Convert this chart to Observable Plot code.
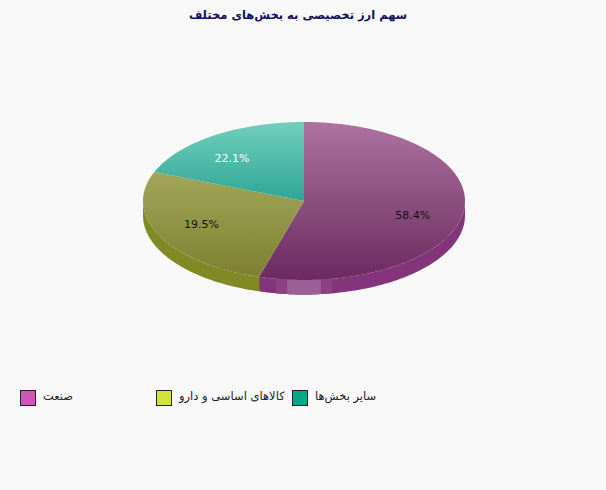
<!DOCTYPE html>
<html><head><meta charset="utf-8">
<script src="https://cdn.jsdelivr.net/npm/d3@7"></script>
<script src="https://cdn.jsdelivr.net/npm/@observablehq/plot@0.6"></script>
<style>
html,body{margin:0;padding:0;background:#f8f8f8;overflow:hidden}
#wrap{position:relative;width:606px;height:490px}
#title{height:30px;width:596px;text-align:center;font:bold 11.5px "DejaVu Sans",sans-serif;line-height:30px;color:#0f0f5f;direction:rtl}
#chart svg{display:block;background:transparent}
#legend{position:absolute;left:20px;top:389px;display:flex;font:11.5px "DejaVu Sans",sans-serif;color:#222}
.item{display:flex;align-items:center;width:136px;height:18px}
.item span+span{position:relative;top:-2px}
.sw{width:14px;height:14px;border:1px solid #222;margin-right:7px;flex:none}
</style></head><body>
<div id="wrap">
<div id="title">سهم ارز تخصیصی به بخش‌های مختلف</div>
<div id="chart"></div>
<div id="legend"></div>
</div>
<script>
const titleText = "سهم ارز تخصیصی به بخش‌های مختلف";
const categories = ["صنعت", "کالاهای اساسی و دارو", "سایر بخش‌ها"];
const labelValues = [58.4, 19.5, 22.1];      // printed percentages
const drawnShares = [54.5, 26.5, 19.0];      // slice sizes as they appear in the picture
const labelColors = ["#111", "#111", "#fff"];
const legendColors = ["#cf55b9", "#d3e33c", "#00a88a"];
const topStops = [["#ad739f", "#6c2a60"], ["#a3a658", "#7c8030"], ["#72cfbc", "#2ea596"]];
const wallColors = ["#83347a", "#7f8a24"];
const highlight = {soft: [170, 190], bright: [174, 186], softColor: "#8b4283", brightColor: "#9c5f94"};

const W = 606, H = 330, top0 = 30;
const cx = 303.5, cy = 200.5 - top0, rx = 161, ry = 79, depth = 14.5;
const pt = (deg, r = 1, dy = 0) => {
  const a = deg * Math.PI / 180;
  return {x: cx + rx * r * Math.sin(a), y: cy - ry * r * Math.cos(a) + dy};
};
const arc = (a0, a1, dy = 0) => {
  const n = Math.max(2, Math.ceil(Math.abs(a1 - a0)));
  return d3.range(n + 1).map(i => pt(a0 + (a1 - a0) * i / n, 1, dy));
};
const wall = (a0, a1) => [...arc(a0, a1), ...arc(a1, a0, depth)];

let acc = 0;
const slices = drawnShares.map(v => { const s = {a0: acc * 3.6, a1: (acc + v) * 3.6}; acc += v; return s; });
let acc2 = 0;
const labels = labelValues.map((v, i) => {
  const mid = (acc2 + v / 2) * 3.6; acc2 += v;
  return {...pt(mid, 0.7), text: v.toFixed(1) + "%", color: labelColors[i]};
});
const defs = () => {
  const g = d3.create("svg:g");
  const d = g.append("defs");
  topStops.forEach((st, i) => {
    const lg = d.append("linearGradient").attr("id", "g" + i).attr("x1", 0).attr("x2", 0).attr("y1", 0).attr("y2", 1);
    lg.append("stop").attr("offset", 0).attr("stop-color", st[0]);
    lg.append("stop").attr("offset", 1).attr("stop-color", st[1]);
  });
  return g.node();
};
const poly = (pts, fill) => Plot.line(pts, {x: "x", y: "y", fill, stroke: "none"});
const chart = Plot.plot({
  width: W, height: H, margin: 0,
  x: {domain: [0, W], range: [0, W], axis: null},
  y: {domain: [0, H], range: [0, H], axis: null},
  style: {background: "transparent"},
  marks: [
    defs,
    poly(wall(90, slices[0].a1), wallColors[0]),
    poly(wall(slices[0].a1, 270), wallColors[1]),
    poly(wall(...highlight.soft), highlight.softColor),
    poly(wall(...highlight.bright), highlight.brightColor),
    ...slices.map((s, i) => poly([{x: cx, y: cy}, ...arc(s.a0, s.a1)], `url(#g${i})`)),
    Plot.text(labels, {x: "x", y: "y", text: "text", fill: "color", fontSize: 11, fontFamily: "DejaVu Sans"})
  ]
});
document.getElementById("chart").append(chart);
const leg = document.getElementById("legend");
categories.forEach((c, i) => {
  const it = document.createElement("div"); it.className = "item";
  it.innerHTML = `<span class="sw" style="background:${legendColors[i]}"></span><span dir="rtl">${c}</span>`;
  leg.append(it);
});
</script>
</body></html>
